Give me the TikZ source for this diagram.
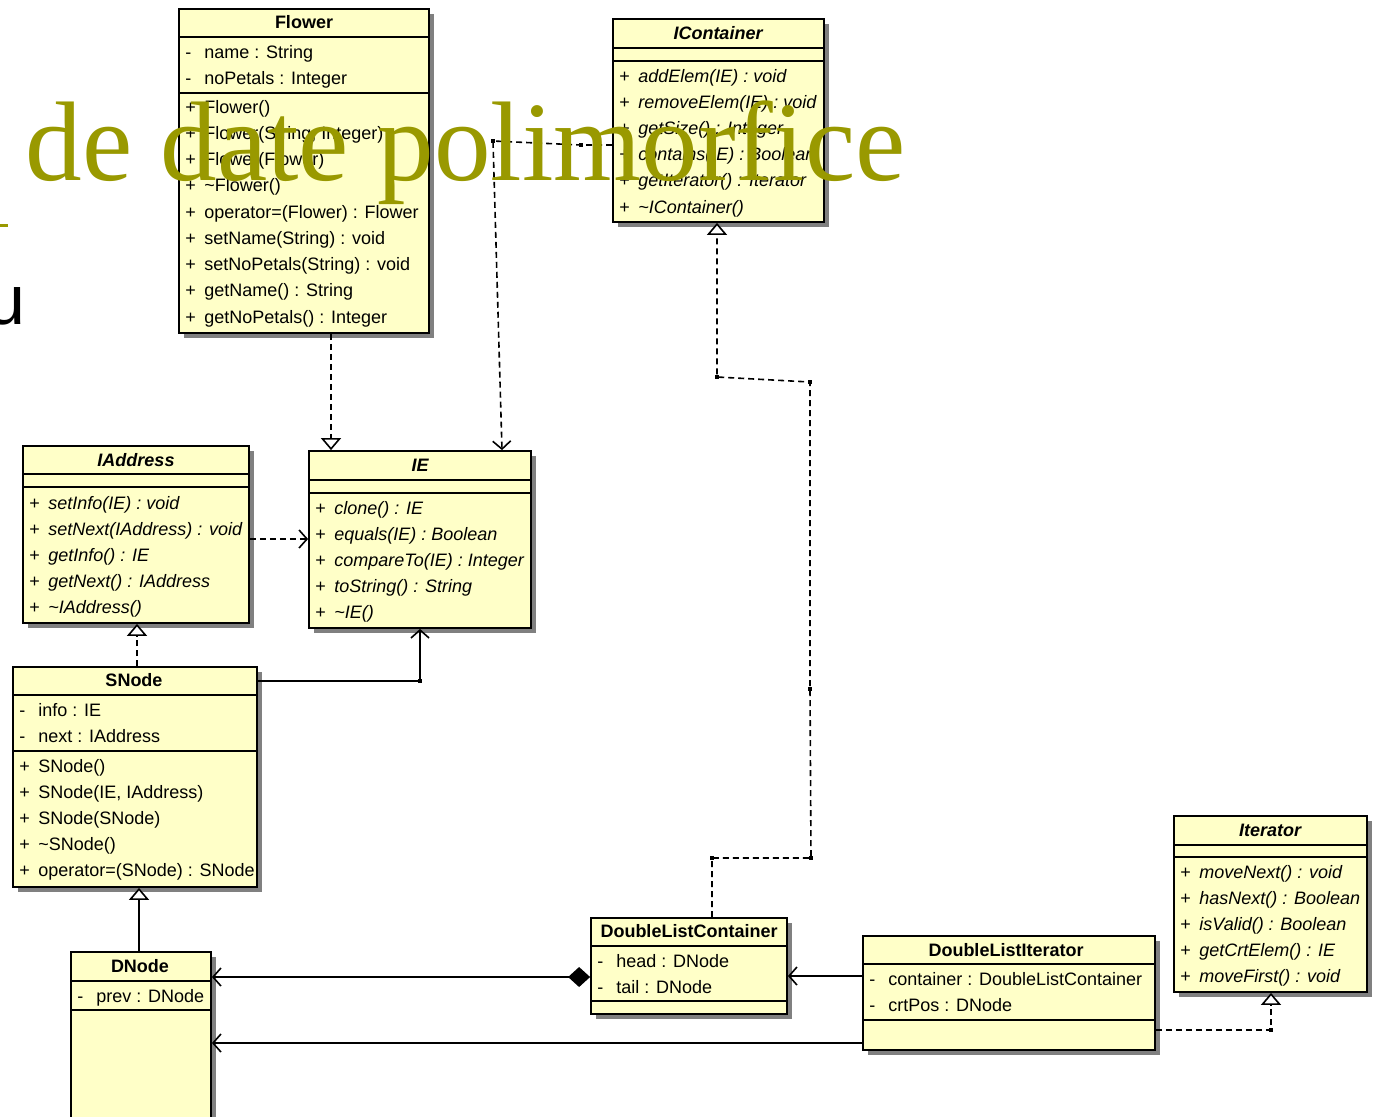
\documentclass[tikz,border=0pt]{standalone}
\usepackage{fontspec}
\setmainfont{Liberation Sans}
\newfontfamily\slidefont{Liberation Serif}
\usepackage{tikz}
\usetikzlibrary{arrows.meta,fit,shadows}
\definecolor{classfill}{RGB}{255,255,200}
\definecolor{slideolive}{RGB}{153,153,0}
\newcommand{\pub}[1]{\makebox[9.5pt][l]{+}#1}
\newcommand{\pri}[1]{\makebox[9.5pt][l]{-}#1}
\tikzset{>=latex}
\tikzstyle{classbox} = [draw,
                        line width=0.9pt,
                        fill=classfill,
                        inner sep=0pt,
                        drop shadow={shadow xshift=2.5pt,
                                     shadow yshift=-2.5pt,
                                     fill=black!50,
                                     opacity=1}]
\tikzstyle{classname} = [inner sep=0pt, font=\fontsize{9}{10}\selectfont\bfseries]
\tikzstyle{member} = [anchor=base west, inner sep=0pt,
                      font=\fontsize{9}{10}\selectfont]
\tikzstyle{divider} = [line width=0.8pt]
\tikzstyle{realize} = [line width=0.8pt,
                       dash pattern=on 3pt off 2pt,
                       -{Triangle[open,fill=white,length=6pt,width=10pt]}]
\tikzstyle{inherit} = [line width=0.8pt,
                       -{Triangle[open,fill=white,length=6pt,width=10pt]}]
\tikzstyle{depend} = [line width=0.8pt,
                      dash pattern=on 3pt off 2pt,
                      -{Straight Barb[length=4pt,width=9pt]}]
\tikzstyle{assoc} = [line width=0.8pt,
                     -{Straight Barb[length=4pt,width=9pt]}]
\tikzstyle{compose} = [line width=0.8pt,
                       {Diamond[length=11pt,width=10pt]}-{Straight Barb[length=4pt,width=9pt]}]
\begin{document}
\begin{tikzpicture}[x=0.5pt, y=-0.5pt]

  \path[use as bounding box, clip] (0,0) rectangle (1374,1116);

  % Classes
  \node[classbox, fit={(179,9)(429,333)}] (flower) {};
  \node[classname] (flower-n) at (304,22) {Flower};
  \draw[divider] (flower.west |- 0,37) -- (flower.east |- 0,37);
  \draw[divider] (flower.west |- 0,93) -- (flower.east |- 0,93);
  \node[member] (flower-a0) at (185,58) {\pri{name : String}};
  \node[member] (flower-a1) at (185,84) {\pri{noPetals : Integer}};
  \foreach \m [count=\i from 0] in {Flower(), {Flower(String, Integer)},
      Flower(Flower), \textasciitilde Flower(), operator=(Flower) : Flower,
      setName(String) : void, setNoPetals(String) : void,
      getName() : String, getNoPetals() : Integer}
    \node[member] (flower-m\i) at (185,113+26.25*\i) {\pub{\m}};

  \node[classbox, fit={(613,19)(824,222)}] (icontainer) {};
  \node[classname, font=\fontsize{9}{10}\selectfont\bfseries\itshape] (icontainer-n) at (718,33) {IContainer};
  \draw[divider] (icontainer.west |- 0,48) -- (icontainer.east |- 0,48);
  \draw[divider] (icontainer.west |- 0,61) -- (icontainer.east |- 0,61);
  \foreach \m [count=\i from 0] in {addElem(IE) : void, removeElem(IE) : void,
      getSize() : Integer, contains(IE) : Boolean,
      getIterator() : Iterator, \textasciitilde IContainer()}
    \node[member] (icontainer-m\i) at (619,82+26.2*\i) {\pub{\textit{\m}}};

  \node[classbox, fit={(23,446)(249,623)}] (iaddress) {};
  \node[classname, font=\fontsize{9}{10}\selectfont\bfseries\itshape] (iaddress-n) at (136,460) {IAddress};
  \draw[divider] (iaddress.west |- 0,474) -- (iaddress.east |- 0,474);
  \draw[divider] (iaddress.west |- 0,487) -- (iaddress.east |- 0,487);
  \foreach \m [count=\i from 0] in {setInfo(IE) : void, setNext(IAddress) : void,
      getInfo() : IE, getNext() : IAddress, \textasciitilde IAddress()}
    \node[member] (iaddress-m\i) at (29,509+26*\i) {\pub{\textit{\m}}};

  \node[classbox, fit={(309,451)(531,628)}] (ie) {};
  \node[classname, font=\fontsize{9}{10}\selectfont\bfseries\itshape] (ie-n) at (420,465) {IE};
  \draw[divider] (ie.west |- 0,480) -- (ie.east |- 0,480);
  \draw[divider] (ie.west |- 0,493) -- (ie.east |- 0,493);
  \foreach \m [count=\i from 0] in {clone() : IE, equals(IE) : Boolean,
      compareTo(IE) : Integer, toString() : String, \textasciitilde IE()}
    \node[member] (ie-m\i) at (315,514+26*\i) {\pub{\textit{\m}}};

  \node[classbox, fit={(13,667)(257,887)}] (snode) {};
  \node[classname] (snode-n) at (134,680) {SNode};
  \draw[divider] (snode.west |- 0,695) -- (snode.east |- 0,695);
  \draw[divider] (snode.west |- 0,751) -- (snode.east |- 0,751);
  \node[member] (snode-a0) at (19,716) {\pri{info : IE}};
  \node[member] (snode-a1) at (19,742) {\pri{next : IAddress}};
  \foreach \m [count=\i from 0] in {SNode(), {SNode(IE, IAddress)}, SNode(SNode),
      \textasciitilde SNode(), operator=(SNode) : SNode}
    \node[member] (snode-m\i) at (19,772+26.2*\i) {\pub{\m}};

  \node[classbox, fit={(71,952)(211,1140)}] (dnode) {};
  \node[classname] (dnode-n) at (140,966) {DNode};
  \draw[divider] (dnode.west |- 0,981) -- (dnode.east |- 0,981);
  \draw[divider] (dnode.west |- 0,1010) -- (dnode.east |- 0,1010);
  \node[member] (dnode-a0) at (77,1002) {\pri{prev : DNode}};

  \node[classbox, fit={(591,918)(787,1014)}] (dlc) {};
  \node[classname] (dlc-n) at (689,931) {DoubleListContainer};
  \draw[divider] (dlc.west |- 0,946) -- (dlc.east |- 0,946);
  \draw[divider] (dlc.west |- 0,1001) -- (dlc.east |- 0,1001);
  \node[member] (dlc-a0) at (597,967) {\pri{head : DNode}};
  \node[member] (dlc-a1) at (597,993) {\pri{tail : DNode}};

  \node[classbox, fit={(863,936)(1155,1050)}] (dli) {};
  \node[classname] (dli-n) at (1006,950) {DoubleListIterator};
  \draw[divider] (dli.west |- 0,964) -- (dli.east |- 0,964);
  \draw[divider] (dli.west |- 0,1020) -- (dli.east |- 0,1020);
  \node[member] (dli-a0) at (869,985) {\pri{container : DoubleListContainer}};
  \node[member] (dli-a1) at (869,1011) {\pri{crtPos : DNode}};

  \node[classbox, fit={(1174,816)(1367,992)}] (iterator) {};
  \node[classname, font=\fontsize{9}{10}\selectfont\bfseries\itshape] (iterator-n) at (1270,830) {Iterator};
  \draw[divider] (iterator.west |- 0,845) -- (iterator.east |- 0,845);
  \draw[divider] (iterator.west |- 0,857) -- (iterator.east |- 0,857);
  \foreach \m [count=\i from 0] in {moveNext() : void, hasNext() : Boolean,
      isValid() : Boolean, getCrtElem() : IE, moveFirst() : void}
    \node[member] (iterator-m\i) at (1180,878+26.2*\i) {\pub{\textit{\m}}};

  % Bend points
  \coordinate (c1) at (331,0);
  \coordinate (d1) at (581,145);
  \coordinate (d2) at (493,141);
  \coordinate (d3) at (502,0);
  \coordinate (c3) at (0,539);
  \coordinate (c4) at (137,0);
  \coordinate (a1) at (420,681);
  \coordinate (c6) at (139,0);
  \coordinate (c7) at (0,977);
  \coordinate (c8) at (0,1043);
  \coordinate (c9) at (0,976);
  \coordinate (r1) at (712,858);
  \coordinate (r2) at (811,858);
  \coordinate (r3) at (810,689);
  \coordinate (r4) at (810,382);
  \coordinate (r5) at (717,377);
  \coordinate (i1) at (1271,1030);

  % Edges
  \draw[realize] (flower.south -| c1) -- (ie.north -| c1);
  \draw[depend] (icontainer.west |- d1) -- (d1) -- (d2) -- (ie.north -| d3);
  \draw[depend] (iaddress.east |- c3) -- (ie.west |- c3);
  \draw[realize] (snode.north -| c4) -- (iaddress.south -| c4);
  \draw[assoc] (snode.east |- a1) -- (a1) -- (ie.south -| a1);
  \draw[inherit] (dnode.north -| c6) -- (snode.south -| c6);
  \draw[compose] (dlc.west |- c7) -- (dnode.east |- c7);
  \draw[assoc] (dli.west |- c8) -- (dnode.east |- c8);
  \draw[assoc] (dli.west |- c9) -- (dlc.east |- c9);
  \draw[realize] (dlc.north -| r1) -- (r1) -- (r2) -- (r3) -- (r4) -- (r5)
    -- (icontainer.south -| r5);
  \draw[realize] (dli.east |- i1) -- (i1) -- (iterator.south -| i1);
  \foreach \c in {d1,d2,a1,r1,r2,r3,r4,r5,i1}
    \fill (\c) +(-2,-2) rectangle +(2,2);

  % Slide text
  \node[anchor=base west, inner sep=0pt, text=slideolive,
    font=\slidefont\fontsize{56.6}{60}\selectfont] (slidetitle) at (25,180)
    {de date polimorfice};
  \fill[slideolive] (0,224) rectangle (8,227);
  \node[anchor=base west, inner sep=0pt,
    font=\fontsize{35}{40}\selectfont] (slideline) at (-14,324) {u};

\end{tikzpicture}
\end{document}
